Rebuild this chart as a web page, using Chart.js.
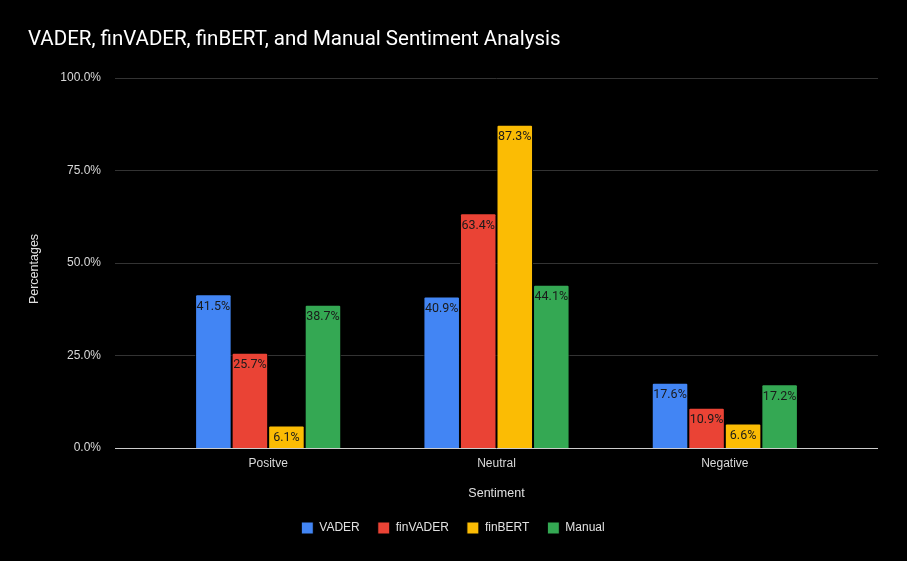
<!DOCTYPE html>
<html>
<head>
<meta charset="utf-8">
<script src="https://cdn.jsdelivr.net/npm/chart.js@4.4.1/dist/chart.umd.min.js"></script>
<style>
  html, body { margin: 0; padding: 0; background: #000; }
  #wrap { width: 907px; height: 561px; }
</style>
</head>
<body>
<div id="wrap"><canvas id="sentimentChart" width="907" height="561"></canvas></div>
<script>
// values (percent)
const categories = ["Positve", "Neutral", "Negative"];
const vader    = [41.5, 40.9, 17.6];
const finVader = [25.7, 63.4, 10.9];
const finBert  = [6.1, 87.3, 6.6];
const manual   = [38.7, 44.1, 17.2];
const yTicks   = [0, 25, 50, 75, 100];

const AXIS_FONT = "'Liberation Sans', Arial, sans-serif";
const LABEL_FONT = "Roboto, 'Liberation Sans', sans-serif";

// grid lines run wider than the category area, like the original
const wideGrid = {
  id: "wideGrid",
  beforeDatasetsDraw(chart) {
    const y = chart.scales.y;
    const ctx = chart.ctx;
    ctx.save();
    yTicks.forEach(v => {
      const py = Math.round(y.getPixelForValue(v)) + 0.5;
      ctx.strokeStyle = v === 0 ? "#cccccc" : "#333333";
      ctx.lineWidth = 1;
      ctx.beginPath();
      ctx.moveTo(115, py);
      ctx.lineTo(878, py);
      ctx.stroke();
    });
    ctx.restore();
  }
};

// y axis title, drawn by hand so it sits a bit low like the original
const yTitle = {
  id: "yTitle",
  afterDraw(chart) {
    const ctx = chart.ctx;
    ctx.save();
    ctx.translate(35, 269);
    ctx.rotate(-Math.PI / 2);
    ctx.font = "12.5px " + AXIS_FONT;
    ctx.fillStyle = "#e0e0e0";
    ctx.textAlign = "center";
    ctx.textBaseline = "middle";
    ctx.fillText("Percentages", 0, 0);
    ctx.restore();
  }
};

// value labels inside the top of each bar
const barLabels = {
  id: "barLabels",
  afterDatasetsDraw(chart) {
    const ctx = chart.ctx;
    ctx.save();
    ctx.font = "12.5px " + LABEL_FONT;
    ctx.textAlign = "center";
    ctx.textBaseline = "top";
    ctx.fillStyle = "#1a1a1a";
    chart.data.datasets.forEach((ds, i) => {
      chart.getDatasetMeta(i).data.forEach((bar, j) => {
        ctx.fillText(ds.data[j].toFixed(1) + "%", bar.x, bar.y + 6);
      });
    });
    ctx.restore();
  }
};

function makeSet(label, data, color) {
  return {
    label: label,
    data: data,
    backgroundColor: color,
    borderColor: "#000",
    borderWidth: 1,
    borderRadius: 2,
    borderSkipped: "bottom",
    categoryPercentage: 0.64,
    barPercentage: 1.0
  };
}

new Chart(document.getElementById("sentimentChart"), {
  type: "bar",
  data: {
    labels: categories,
    datasets: [
      makeSet("VADER", vader, "#4285F4"),
      makeSet("finVADER", finVader, "#EA4335"),
      makeSet("finBERT", finBert, "#FBBC04"),
      makeSet("Manual", manual, "#34A853")
    ]
  },
  options: {
    responsive: false,
    animation: false,
    layout: { padding: { left: 28, right: 29, top: 0, bottom: 17 } },
    plugins: {
      title: {
        display: true,
        text: "VADER, finVADER, finBERT, and Manual Sentiment Analysis",
        align: "start",
        color: "#ffffff",
        font: { family: LABEL_FONT, size: 20.5, weight: "normal" },
        padding: { top: 28, bottom: 25 }
      },
      legend: {
        position: "bottom",
        labels: {
          color: "#e0e0e0",
          boxWidth: 12,
          boxHeight: 12,
          padding: 18,
          font: { family: AXIS_FONT, size: 12 }
        }
      },
      tooltip: { enabled: false }
    },
    scales: {
      x: {
        grid: { display: false, drawTicks: false },
        border: { display: false },
        ticks: { color: "#d9d9d9", padding: 8, font: { family: AXIS_FONT, size: 12 } },
        title: {
          display: true,
          text: "Sentiment",
          color: "#e0e0e0",
          font: { family: AXIS_FONT, size: 12.5 },
          padding: { top: 4, bottom: 3 }
        },
        afterFit: s => { s.height = 56; }
      },
      y: {
        min: 0,
        max: 100,
        afterBuildTicks: s => { s.ticks = yTicks.map(v => ({ value: v })); },
        grid: { display: false, drawTicks: false },
        border: { display: false },
        ticks: {
          color: "#d9d9d9",
          padding: 53,
          font: { family: AXIS_FONT, size: 12 },
          callback: v => v.toFixed(1) + "%"
        },
        afterFit: s => { s.width = 126; }
      },
      yRight: {
        position: "right",
        min: 0,
        max: 100,
        grid: { display: false },
        border: { display: false },
        ticks: { display: false },
        afterFit: s => { s.width = 39; }
      }
    }
  },
  plugins: [wideGrid, barLabels, yTitle]
});
</script>
</body>
</html>
